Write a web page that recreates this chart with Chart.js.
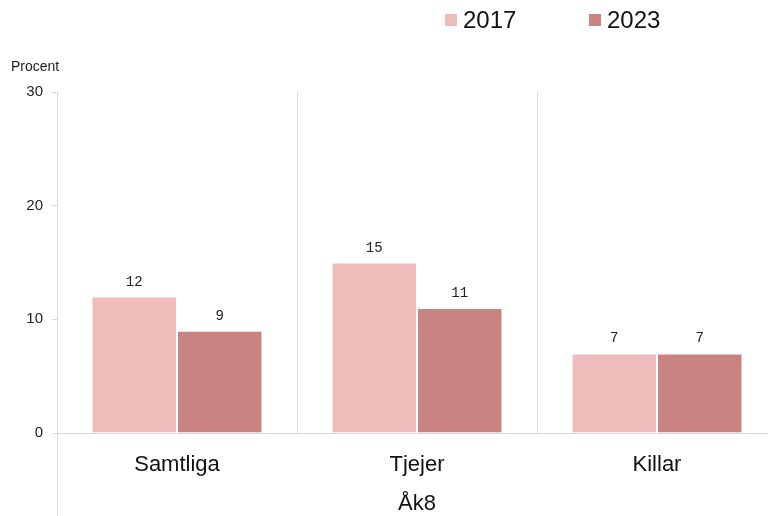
<!DOCTYPE html>
<html>
<head>
<meta charset="utf-8">
<script src="https://cdn.jsdelivr.net/npm/chart.js@4"></script>
<style>
  html, body { margin: 0; padding: 0; background: #fff; overflow: hidden; }
  #wrap { width: 768px; height: 516px; overflow: hidden; }
</style>
</head>
<body>
<div id="wrap"><canvas id="barChart" width="800" height="516"></canvas></div>
<script>
const categories = ["Samtliga", "Tjejer", "Killar"];
const groupLabel = "Åk8";
const years = ["2017", "2023"];
const values2017 = [12, 15, 7];
const values2023 = [9, 11, 7];
const yTicks = [0, 10, 20, 30];

const colors = ["#F0BCBB", "#C98380"];
const gridColor = "#d9d9d9";
const sansFont = "'Liberation Sans', Arial, sans-serif";

// etiketter ovanför staplarna
const valueLabels = {
  id: "valueLabels",
  afterDatasetsDraw(chart) {
    const c = chart.ctx;
    c.save();
    c.font = "14px 'Liberation Mono', monospace";
    c.fillStyle = "#222";
    c.textAlign = "center";
    c.textBaseline = "alphabetic";
    chart.data.datasets.forEach((ds, i) => {
      chart.getDatasetMeta(i).data.forEach((bar, j) => {
        c.fillText(String(ds.data[j]), bar.x, bar.y - 11);
      });
    });
    c.restore();
  },
};

// legend, "Procent" och den förlängda vänsteraxeln
const extras = {
  id: "extras",
  afterDraw(chart) {
    const c = chart.ctx;
    const area = chart.chartArea;
    c.save();
    c.strokeStyle = gridColor;
    c.lineWidth = 1;
    c.beginPath();
    c.moveTo(area.left + 0.5, area.bottom);
    c.lineTo(area.left + 0.5, chart.height);
    c.stroke();

    c.font = "14px " + sansFont;
    c.fillStyle = "#222";
    c.textAlign = "left";
    c.textBaseline = "middle";
    c.fillText("Procent", 11, 67);

    const legendX = [445, 589];
    c.font = "24px " + sansFont;
    years.forEach((y, i) => {
      c.fillStyle = colors[i];
      c.fillRect(legendX[i], 14, 12, 12);
      c.fillStyle = "#111";
      c.fillText(y, legendX[i] + 18, 21);
    });
    c.restore();
  },
};

new Chart(document.getElementById("barChart"), {
  type: "bar",
  data: {
    labels: categories,
    datasets: [
      {
        label: years[0],
        data: values2017,
        backgroundColor: colors[0],
        borderColor: "#ffffff",
        borderWidth: 1,
      },
      {
        label: years[1],
        data: values2023,
        backgroundColor: colors[1],
        borderColor: "#ffffff",
        borderWidth: 1,
      },
    ],
  },
  options: {
    responsive: false,
    devicePixelRatio: 1,
    animation: false,
    layout: { padding: { top: 92, left: 0, right: 23, bottom: 0 } },
    datasets: { bar: { categoryPercentage: 0.7125, barPercentage: 1 } },
    plugins: {
      legend: { display: false },
      tooltip: { enabled: false },
    },
    scales: {
      x: {
        grid: { color: gridColor, drawTicks: false, offset: true },
        border: { color: gridColor },
        ticks: { color: "#111", font: { family: sansFont, size: 22 }, padding: 19 },
        title: {
          display: true,
          text: groupLabel,
          color: "#111",
          font: { family: sansFont, size: 22, lineHeight: 1 },
          padding: { top: 0, bottom: 1 },
        },
        afterFit(scale) {
          scale.height = 83;
        },
      },
      y: {
        min: 0,
        max: 30,
        afterBuildTicks(scale) {
          scale.ticks = yTicks.map((v) => ({ value: v }));
        },
        grid: { color: gridColor, drawOnChartArea: false, drawTicks: true, tickLength: 5 },
        border: { color: gridColor },
        ticks: { color: "#222", font: { family: sansFont, size: 15 }, padding: 9 },
        afterFit(scale) {
          scale.width = 57;
        },
      },
    },
  },
  plugins: [valueLabels, extras],
});
</script>
</body>
</html>
